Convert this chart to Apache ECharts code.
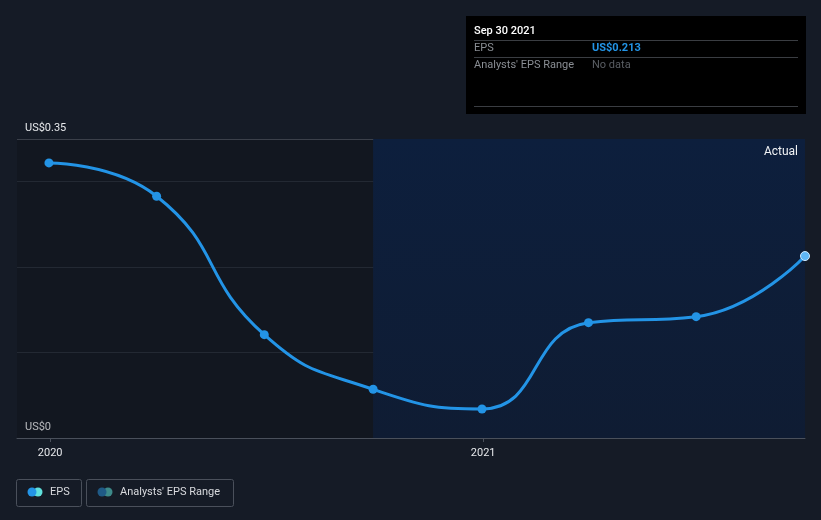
<!DOCTYPE html>
<html><head><meta charset="utf-8">
<style>html,body{margin:0;padding:0;background:#151b26;}#c{width:821px;height:520px;}</style>
<script src="https://cdn.jsdelivr.net/npm/echarts@6/dist/echarts.min.js"></script>
</head><body><div id="c"></div>
<script>
const dates = ['2019-12-31','2020-03-31','2020-06-30','2020-09-30','2020-12-31','2021-03-31','2021-06-30','2021-09-30'];
const eps = [0.322, 0.283, 0.121, 0.057, 0.034, 0.135, 0.142, 0.213];
const yTickLabels = {0: 'US$0', 0.35: 'US$0.35'};
const xTickDates = ['2020-01-01', '2021-01-01'];
const axisMin = '2019-12-04';
const axisMax = '2021-09-30';
const actualStart = '2020-09-30';
const tipDate = 'Sep 30 2021';
const tipEps = 'US$0.213';

const chart = echarts.init(document.getElementById('c'));
const ts = s => new Date(s + 'T00:00:00Z').getTime();
const data = dates.map((d, i) => {
  const p = {value: [ts(d), eps[i]]};
  if (i === dates.length - 1) p.itemStyle = {color: '#5fb6f5', borderColor: '#cfe9ff', borderWidth: 1};
  return p;
});
const font = 'Roboto, "Noto Sans", sans-serif';
chart.setOption({
  backgroundColor: '#151b26',
  animation: false,
  grid: {left: 17, right: 16, top: 139, bottom: 82},
  xAxis: {
    type: 'value', min: ts(axisMin), max: ts(axisMax),
    axisLine: {show: true, lineStyle: {color: '#4a505b', width: 1}},
    axisTick: {show: true, customValues: xTickDates.map(ts), length: 4, lineStyle: {color: '#4a505b'}},
    axisLabel: {customValues: xTickDates.map(ts), color: '#e6e8eb', fontFamily: font, fontSize: 11, margin: 10,
      formatter: v => String(new Date(v).getUTCFullYear())},
    splitLine: {show: false}
  },
  yAxis: {
    type: 'value', min: 0, max: 0.35, interval: 0.1,
    axisLine: {show: false}, axisTick: {show: false},
    axisLabel: {inside: true, margin: 8, verticalAlign: 'bottom', padding: [0, 0, 5, 0],
      color: '#e6e8eb', fontFamily: font, fontSize: 11,
      formatter: v => (yTickLabels[Math.round(v * 100) / 100] || '')},
    splitLine: {show: true, lineStyle: {color: ['#4a505b', '#2b323e', '#2b323e', '#2b323e', '#4a505b'], width: 1}}
  },
  series: [{
    type: 'line', data: data, smooth: 0.5,
    symbol: 'circle', symbolSize: 9,
    lineStyle: {color: '#2394e6', width: 3},
    itemStyle: {color: '#2394e6'},
    markArea: {
      silent: true,
      label: {show: true, position: 'insideTopRight', distance: 7, color: '#f0f2f4', fontFamily: font, fontSize: 12,
        formatter: p => p.name || ''},
      data: [
        [{name: '', xAxis: ts(axisMin), yAxis: 0, itemStyle: {color: 'rgba(8,10,14,0.22)'}}, {xAxis: ts(actualStart), yAxis: 0.35}],
        [{name: 'Actual', xAxis: ts(actualStart), yAxis: 0,
          itemStyle: {color: new echarts.graphic.LinearGradient(0, 0, 0, 1, [{offset: 0, color: '#0d1f3d'}, {offset: 1, color: '#0f1c33'}])}},
         {xAxis: ts(axisMax), yAxis: 0.35}]
      ]
    }
  }],
  graphic: [
    {type: 'rect', shape: {x: 466, y: 16, width: 340, height: 98}, style: {fill: '#000000'}},
    {type: 'text', x: 474, y: 26, style: {text: tipDate, fill: '#ffffff', font: '500 11px ' + font}},
    {type: 'line', shape: {x1: 474, y1: 40.5, x2: 798, y2: 40.5}, style: {stroke: '#3a3d42', lineWidth: 1}},
    {type: 'text', x: 474, y: 43, style: {text: 'EPS', fill: '#8a8e94', font: '11px ' + font}},
    {type: 'text', x: 592, y: 43, style: {text: tipEps, fill: '#2394e6', font: 'bold 11px ' + font}},
    {type: 'line', shape: {x1: 474, y1: 57.5, x2: 798, y2: 57.5}, style: {stroke: '#3a3d42', lineWidth: 1}},
    {type: 'text', x: 474, y: 60, style: {text: "Analysts' EPS Range", fill: '#8a8e94', font: '11px ' + font}},
    {type: 'text', x: 592, y: 60, style: {text: 'No data', fill: '#5a5e64', font: '11px ' + font}},
    {type: 'line', shape: {x1: 474, y1: 106.5, x2: 798, y2: 106.5}, style: {stroke: '#3a3d42', lineWidth: 1}},
    {type: 'rect', shape: {x: 16.5, y: 479.5, width: 65, height: 27, r: 2}, style: {fill: 'none', stroke: '#4a505b', lineWidth: 1}},
    {type: 'circle', shape: {cx: 38, cy: 492, r: 4.5}, style: {fill: '#5fe0dc'}},
    {type: 'circle', shape: {cx: 32, cy: 492, r: 4.5}, style: {fill: '#2394e6'}},
    {type: 'text', x: 50, y: 487, style: {text: 'EPS', fill: '#d8dade', font: '11px ' + font}},
    {type: 'rect', shape: {x: 86.5, y: 479.5, width: 147, height: 27, r: 2}, style: {fill: 'none', stroke: '#4a505b', lineWidth: 1}},
    {type: 'circle', shape: {cx: 108, cy: 492, r: 4.5}, style: {fill: '#3d8a8a'}},
    {type: 'circle', shape: {cx: 102, cy: 492, r: 4.5}, style: {fill: '#1f5a86'}},
    {type: 'text', x: 120, y: 487, style: {text: "Analysts' EPS Range", fill: '#d8dade', font: '11px ' + font}}
  ]
});
</script></body></html>
